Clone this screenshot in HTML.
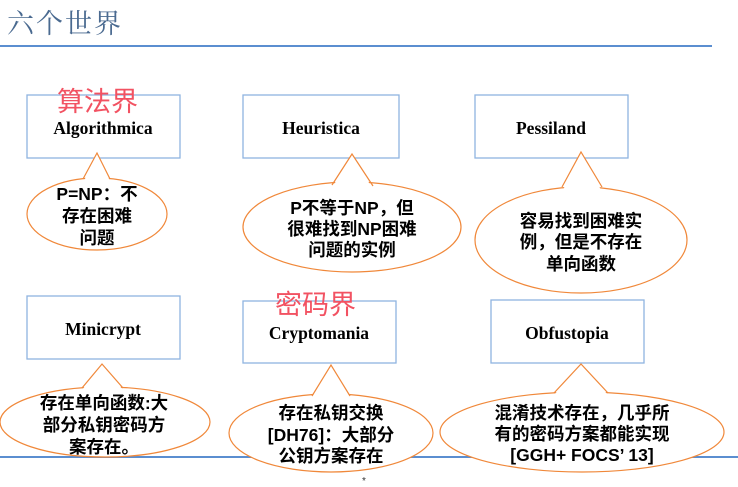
<!DOCTYPE html>
<html><head><meta charset="utf-8"><style>
html,body{margin:0;padding:0;background:#fff;}
svg{display:block;}
.t{font-family:"Liberation Serif",serif;font-weight:bold;font-size:17.5px;fill:#000;text-anchor:middle;}
.c{font-family:"Liberation Sans","Noto Sans CJK SC",sans-serif;font-weight:bold;font-size:17.5px;fill:#000;text-anchor:middle;}
.r{font-family:"Liberation Sans","Noto Sans CJK SC",sans-serif;font-size:27px;fill:#f25262;}
</style></head><body>
<svg width="738" height="487" viewBox="0 0 738 487" xmlns="http://www.w3.org/2000/svg">
<text x="7" y="33" style="font-family:'Noto Serif CJK SC','Noto Sans CJK SC',serif;font-size:27px;fill:#4a6a90;letter-spacing:2px">六个世界</text>
<line x1="0" y1="46" x2="712" y2="46" stroke="#5b8ed0" stroke-width="2"/>
<line x1="0" y1="457" x2="738" y2="457" stroke="#5b8ed0" stroke-width="2"/>
<g fill="#fff" stroke="#8fb4e0" stroke-width="1.3">
<rect x="27" y="95" width="153" height="63"/>
<rect x="243" y="95" width="156" height="63"/>
<rect x="475" y="95" width="153" height="63"/>
<rect x="27" y="296" width="153" height="63"/>
<rect x="243" y="301" width="153" height="62"/>
<rect x="491" y="300" width="153" height="63"/>
</g>
<text class="t" x="103" y="134">Algorithmica</text>
<text class="t" x="321" y="134">Heuristica</text>
<text class="t" x="551" y="134">Pessiland</text>
<text class="t" x="103" y="335">Minicrypt</text>
<text class="t" x="319" y="339">Cryptomania</text>
<text class="t" x="567" y="339">Obfustopia</text>
<g fill="#fff" stroke="#f0883a" stroke-width="1.2">
<ellipse cx="97" cy="214" rx="70" ry="36"/>
<ellipse cx="352" cy="227" rx="109" ry="45"/>
<ellipse cx="581" cy="240" rx="106" ry="53"/>
<ellipse cx="105" cy="422" rx="105" ry="35"/>
<ellipse cx="331" cy="433" rx="102" ry="39"/>
<ellipse cx="582" cy="432" rx="142" ry="40"/>
</g>
<g fill="#fff" stroke="none">
<polygon points="84,181 97,153 110,181"/>
<polygon points="332,188 352,154 372,188"/>
<polygon points="563,190 581,152 601,190"/>
<polygon points="82,390 102,364 123,390"/>
<polygon points="312,397 331,365 350,397"/>
<polygon points="554,395 581,364 608,395"/>
</g>
<g fill="none" stroke="#f0883a" stroke-width="1.2">
<polyline points="83,179 97,153 110,179"/>
<polyline points="332,185 352,154 373,186"/>
<polyline points="562,187 581,152 602,187"/>
<polyline points="82,388 102,364 123,388"/>
<polyline points="312,396 331,365 350,396"/>
<polyline points="554,393 581,364 608,393"/>
</g>
<text class="c" x="97" y="200">P=NP：不</text>
<text class="c" x="97" y="222">存在困难</text>
<text class="c" x="97" y="244">问题</text>
<text class="c" x="352" y="214">P不等于NP，但</text>
<text class="c" x="352" y="235">很难找到NP困难</text>
<text class="c" x="352" y="256">问题的实例</text>
<text class="c" x="581" y="227">容易找到困难实</text>
<text class="c" x="581" y="248">例，但是不存在</text>
<text class="c" x="581" y="270">单向函数</text>
<text class="c" x="104" y="409">存在单向函数:大</text>
<text class="c" x="104" y="431">部分私钥密码方</text>
<text class="c" x="104" y="453">案存在。</text>
<text class="c" x="331" y="419">存在私钥交换</text>
<text class="c" x="331" y="441">[DH76]：大部分</text>
<text class="c" x="331" y="462">公钥方案存在</text>
<text class="c" x="582" y="419">混淆技术存在，几乎所</text>
<text class="c" x="582" y="440">有的密码方案都能实现</text>
<text class="c" x="582" y="461">[GGH+ FOCS’ 13]</text>
<text class="r" x="57" y="111">算法界</text>
<text class="r" x="275" y="314">密码界</text>
<text x="362" y="484" style="font-family:'Liberation Sans',sans-serif;font-size:10px;fill:#333">*</text>
</svg>
</body></html>
